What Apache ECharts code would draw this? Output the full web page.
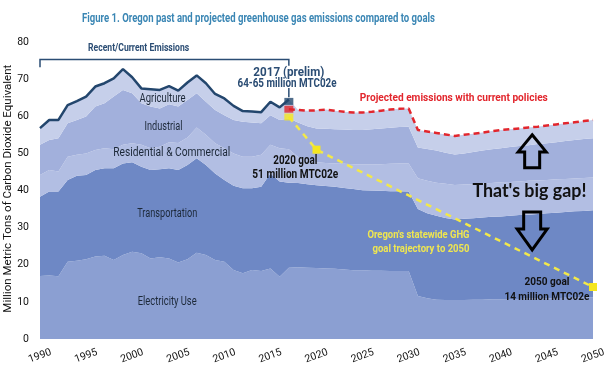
<!DOCTYPE html>
<html><head><meta charset="utf-8">
<script src="https://cdn.jsdelivr.net/npm/echarts@6/dist/echarts.min.js"></script>
<style>html,body{margin:0;padding:0;background:#fff}#c{width:607px;height:371px}</style>
</head><body><div id="c"></div>
<script>
const FONT = "Roboto,'Liberation Sans',sans-serif";

const years = [];
for (let y = 1990; y <= 2050; y++) years.push(String(y));

// sector emissions, million MTCO2e (1990-2017 historical, 2018-2050 projected)
const electricity = [17.0,17.1,16.9,20.8,21.1,21.5,22.2,22.4,21.3,22.6,23.5,23.1,21.7,22.0,21.7,20.6,21.5,23.2,22.6,21.3,20.8,18.6,17.7,18.6,18.3,19.0,16.8,19.2,
  19.3,19.2,19.1,19.0,18.9,18.7,18.5,18.5,18.4,18.4,18.3,18.3,18.3,11.6,11.0,10.6,10.5,10.5,10.5,10.6,10.6,10.7,10.7,10.8,10.8,10.9,10.9,11.0,11.0,11.1,11.1,11.2,11.2];
const transportation = [21.3,22.6,22.8,22.0,22.9,22.7,23.3,23.6,24.7,24.7,24.1,23.3,23.8,23.7,24.3,24.9,25.4,25.5,24.3,23.3,22.0,22.7,22.9,22.0,22.7,25.6,25.6,22.9,
  22.7,22.5,22.3,22.2,22.1,22.0,21.9,21.6,21.6,21.5,21.5,21.5,21.4,23.4,22.9,22.6,22.1,21.7,21.9,21.9,22.1,22.2,22.3,22.4,22.6,22.6,22.8,22.9,23.0,23.1,23.3,23.3,23.5];
const residentialCommercial = [5.9,5.8,5.4,6.3,5.6,5.8,5.4,5.4,5.1,5.0,5.1,5.9,5.9,6.1,7.0,7.3,7.4,8.3,8.1,8.1,8.6,8.7,8.5,8.5,8.6,7.7,9.0,9.0,
  7.0,6.5,6.2,6.2,6.3,6.5,6.7,6.9,7.0,7.2,7.4,7.5,7.6,8.3,8.7,8.9,9.2,9.3,9.2,9.2,9.2,9.1,9.2,9.1,9.0,9.1,9.0,8.9,9.0,8.9,8.8,8.9,8.8];
const industrial = [8.1,8.1,9.0,9.0,9.4,9.9,11.7,12.1,14.2,14.8,13.5,11.2,11.2,10.3,10.2,9.8,10.1,9.2,8.9,9.0,8.9,9.0,9.4,9.2,8.5,8.0,7.6,8.3,
  9.3,9.1,9.1,9.2,9.2,9.2,9.2,9.3,9.5,9.6,9.7,9.8,9.9,8.3,8.6,8.7,8.4,8.2,8.4,8.7,8.9,9.1,9.2,9.4,9.6,9.6,9.8,9.9,10.0,10.2,10.4,10.5,10.6];
const agriculture = [4.5,5.4,4.9,4.9,5.1,5.4,5.4,5.4,4.9,5.6,4.3,4.0,4.7,5.0,4.9,4.3,4.7,4.8,5.0,4.3,4.5,3.8,2.9,3.0,3.0,3.6,3.4,5.1,
  3.4,4.2,4.9,5.2,5.0,4.8,4.7,4.7,4.7,4.8,4.9,4.9,4.9,4.7,4.7,4.7,4.9,5.0,5.0,4.9,4.8,4.9,4.9,4.8,4.7,4.8,4.7,4.8,4.8,4.8,4.8,4.8,4.9];

const lastHistoricalYear = '2017';
const markers2017 = [64.0, 61.9, 59.8];          // 2017 prelim (blue), projection start (red), goal start (yellow)
const goalYears = ['2017', '2020', '2050'];
const goalValues = [59.8, 51, 14];

const sectorNames = ['Electricity Use', 'Transportation', 'Residential & Commercial', 'Industrial', 'Agriculture'];
const sectors = [electricity, transportation, residentialCommercial, industrial, agriculture];
const sectorColors = ['#8b9fd2', '#6e88c5', '#b2bee3', '#a2b0dc', '#c6cfea'];

const lastIdx = years.indexOf(lastHistoricalYear);
const totals = years.map((_, i) => sectors.reduce((s, a) => s + a[i], 0));
const historicalLine = totals.map((v, i) => i <= lastIdx ? +v.toFixed(1) : null);
const projectedLine = totals.map((v, i) => i < lastIdx ? null : (i === lastIdx ? markers2017[1] : +v.toFixed(1)));
const goalLine = years.map(y => { const k = goalYears.indexOf(y); return k >= 0 ? goalValues[k] : null; });

const chart = echarts.init(document.getElementById('c'), null, { renderer: 'canvas' });

const series = sectors.map((arr, k) => ({
  name: sectorNames[k], type: 'line', stack: 'ghg', data: arr, symbol: 'none',
  lineStyle: { width: 0 }, areaStyle: { color: sectorColors[k], opacity: 1 },
  itemStyle: { color: sectorColors[k] }, z: 2, silent: true
}));
series.push({
  name: 'Historical total', type: 'line', data: historicalLine, symbol: 'none',
  lineStyle: { color: '#23466d', width: 2.5 }, z: 5
});
series.push({
  name: 'Projected', type: 'line', data: projectedLine, symbol: 'none',
  lineStyle: { color: '#e2262d', width: 2.5, type: [6, 4] }, z: 5
});
series.push({
  name: 'Goal', type: 'line', data: goalLine, connectNulls: true,
  symbol: 'rect', symbolSize: 8, showSymbol: true,
  itemStyle: { color: '#f5e620' },
  lineStyle: { color: '#f2e84a', width: 2.5, type: [6, 5] }, z: 6
});
series.push({
  name: '2017 markers', type: 'scatter', symbol: 'rect', symbolSize: [9, 7], z: 7,
  data: [
    { value: [lastHistoricalYear, markers2017[0]], itemStyle: { color: '#24486e' } },
    { value: [lastHistoricalYear, markers2017[1]], itemStyle: { color: '#e0262b' } },
    { value: [lastHistoricalYear, markers2017[2]], itemStyle: { color: '#f5e620' } }
  ]
});

chart.setOption({
  animation: false,
  backgroundColor: '#fff',
  grid: { left: 40, right: 14, top: 42, bottom: 32, containLabel: false, outerBoundsMode: 'none' },
  xAxis: {
    type: 'category', data: years, boundaryGap: false,
    axisLine: { show: false }, axisTick: { show: false }, splitLine: { show: false },
    axisLabel: { interval: 4, rotate: 20, align: 'center', verticalAlign: 'middle', margin: 17,
      fontFamily: FONT, fontSize: 10.5, color: '#111' }
  },
  yAxis: {
    type: 'value', min: 0, max: 80, interval: 10,
    axisLine: { show: false }, axisTick: { show: false }, splitLine: { show: false },
    axisLabel: { fontFamily: FONT, fontSize: 10.5, color: '#111', margin: 11, padding: [6, 0, 0, 0] }
  },
  series: series
});

// annotations anchored to data coordinates, widths fitted like the condensed original type
const x0 = chart.convertToPixel({ xAxisIndex: 0 }, '1990');
const x1 = chart.convertToPixel({ xAxisIndex: 0 }, '2050');
const X = yr => x0 + (yr - 1990) / 60 * (x1 - x0);
const Y = v => chart.convertToPixel({ yAxisIndex: 0 }, v);
const mctx = document.createElement('canvas').getContext('2d');

function fit(text, px, py, font, fill, width, align, rotation) {
  mctx.font = font;
  const w = mctx.measureText(text).width || width;
  return { type: 'text', x: px, y: py, scaleX: width / w, rotation: rotation || 0, z: 20,
    style: { text, font, fill, align: align || 'center', verticalAlign: 'middle' } };
}
const txt = (text, yr, v, font, fill, width, align) => fit(text, X(yr), Y(v), font, fill, width, align);
const B = s => 'bold ' + s + 'px ' + FONT;
const N = s => s + 'px ' + FONT;

function arrowUp(cx, tipV, headV, botV, hw, sw) {
  const c = X(cx), t = Y(tipV), h = Y(headV), b = Y(botV);
  return { type: 'polygon', z: 20, shape: { points: [[c, t], [c + hw, h], [c + sw, h], [c + sw, b], [c - sw, b], [c - sw, h], [c - hw, h]] },
    style: { fill: 'none', stroke: '#000', lineWidth: 3, lineJoin: 'miter' } };
}
function arrowDown(cx, topV, headV, tipV, hw, sw) {
  const c = X(cx), t = Y(topV), h = Y(headV), b = Y(tipV);
  return { type: 'polygon', z: 20, shape: { points: [[c - sw, t], [c + sw, t], [c + sw, h], [c + hw, h], [c, b], [c - hw, h], [c - sw, h]] },
    style: { fill: 'none', stroke: '#000', lineWidth: 3, lineJoin: 'miter' } };
}

const navy = '#2b4d74';
const dark = '#1c2838';
const graphic = [
  fit('Figure 1. Oregon past and projected greenhouse gas emissions compared to goals', 258.5, 19, B(12.5), '#3a86b4', 353),
  fit('Million Metric Tons of Carbon Dioxide Equivalent', 8, Y(40.5), N(11.5), '#111', 248, 'center', Math.PI / 2),
  txt('Recent/Current Emissions', 2000.7, 78.4, B(11.5), navy, 101),
  { type: 'polyline', z: 20, shape: { points: [[X(1990), Y(73.2)], [X(1990), Y(75.3)], [X(2017), Y(75.3)], [X(2017), Y(73.6)]] },
    style: { stroke: navy, lineWidth: 1.5, fill: 'none' } },
  txt('2017 (prelim)', 2017.0, 71.7, B(12.5), navy, 71),
  txt('64-65 million MTC02e', 2016.8, 68.7, B(12.5), navy, 99),
  { type: 'line', z: 20, shape: { x1: X(2017), y1: Y(67.6), x2: X(2017), y2: Y(65.1) }, style: { stroke: navy, lineWidth: 1.5 } },
  txt('Projected emissions with current policies', 2034.9, 65.0, B(11.5), '#e2262d', 188),
  txt('2020 goal', 2017.7, 48.0, B(12), '#111', 44),
  txt('51 million MTC02e', 2017.7, 44.1, B(12), '#111', 86),
  txt("Oregon's statewide GHG", 2036.6, 28.0, B(11.5), '#efe650', 102, 'right'),
  txt('goal trajectory to 2050', 2036.6, 24.2, B(11.5), '#efe650', 97, 'right'),
  txt('2050 goal', 2045.0, 15.4, B(11.5), '#111', 45),
  txt('14 million MTC02e', 2045.0, 11.3, B(11.5), '#111', 85),
  txt("That's big gap!", 2043.1, 39.7, 'bold 18px Lato, "Open Sans", sans-serif', '#111', 114),
  arrowUp(2043.4, 55.0, 50.4, 46.1, 14, 7.5),
  arrowDown(2043.4, 34.2, 29.6, 24.0, 15, 8.5),
  txt('Agriculture', 2003.3, 64.6, N(12.5), dark, 46),
  txt('Industrial', 2003.4, 57.2, N(12.5), dark, 38),
  txt('Residential & Commercial', 2004.3, 50.2, N(12.5), dark, 117),
  txt('Transportation', 2003.8, 33.6, N(12.5), dark, 60),
  txt('Electricity Use', 2003.8, 10.0, N(12.5), dark, 59)
];
chart.setOption({ graphic: graphic });
</script>
</body></html>
